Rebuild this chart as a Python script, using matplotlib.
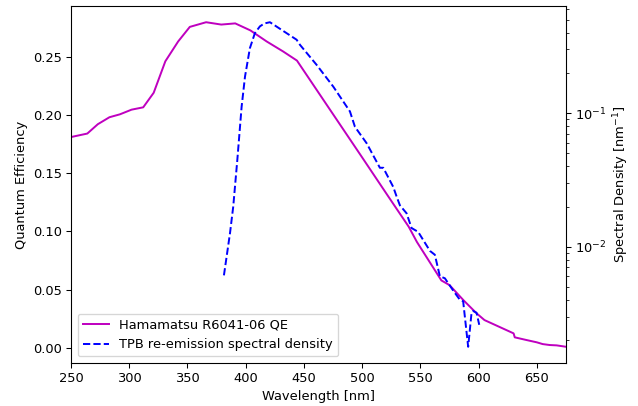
import matplotlib
matplotlib.use("Agg")
import matplotlib.pyplot as plt

qe_wl = [250, 264, 273, 283, 292, 302, 312, 321, 331, 342, 352, 366, 379, 391, 404,
         418, 432, 444, 470, 500, 524, 540, 547, 568, 575, 587, 598, 605, 630, 631,
         641, 650, 655, 661, 667, 675]
qe_val = [0.181, 0.184, 0.192, 0.198, 0.2005, 0.2045, 0.2065, 0.219, 0.246, 0.263,
          0.2755, 0.2795, 0.2775, 0.2785, 0.2725, 0.263, 0.2545, 0.2466, 0.208,
          0.1635, 0.1277, 0.104, 0.091, 0.058, 0.054, 0.041, 0.030, 0.024, 0.0126,
          0.0092, 0.0069, 0.0049, 0.0034, 0.0026, 0.0023, 0.0011]

tpb_wl = [381.3, 386.5, 389.3, 392.8, 396.5, 399.4, 403.6, 407.9, 412.2, 416, 420.8,
          443.7, 446.6, 460.9, 475.2, 489.5, 493.8, 503.8, 515.2, 518.1, 526.7, 529.6,
          532.4, 538.1, 542.4, 548.1, 558.2, 562.4, 566.7, 571, 578.1, 583.9, 586.7,
          591, 593.9, 595.3, 598.2, 600.5]
tpb_val = [0.0061, 0.0126, 0.020, 0.0447, 0.112, 0.188, 0.307, 0.398, 0.447, 0.47, 0.48,
           0.355, 0.325, 0.230, 0.158, 0.103, 0.079, 0.0596, 0.039, 0.039, 0.028, 0.0237,
           0.0204, 0.0178, 0.0138, 0.0129, 0.0093, 0.0087, 0.0060, 0.0058, 0.0047, 0.0040,
           0.0039, 0.00178, 0.0032, 0.0033, 0.0032, 0.0026]

DPI = 94
fig = plt.figure(figsize=(638 / DPI, 406 / DPI), dpi=DPI)
ax = fig.add_axes([71/638, 43/406, 495/638, 357/406])
l1, = ax.plot(qe_wl, qe_val, color='m', lw=1.5, label='Hamamatsu R6041-06 QE')
ax.set_xlim(250, 675)
ax.set_xlabel('Wavelength [nm]')
ax.set_ylabel('Quantum Efficiency')

ax2 = ax.twinx()
l2, = ax2.plot(tpb_wl, tpb_val, color='b', ls='--', lw=1.5,
               label='TPB re-emission spectral density')
ax2.set_yscale('log')
ax2.set_ylabel('Spectral Density [nm$^{-1}$]')
ax2.set_xlim(250, 675)

ax.legend(handles=[l1, l2], loc='lower left')

fig.savefig('out.png', dpi=DPI)
